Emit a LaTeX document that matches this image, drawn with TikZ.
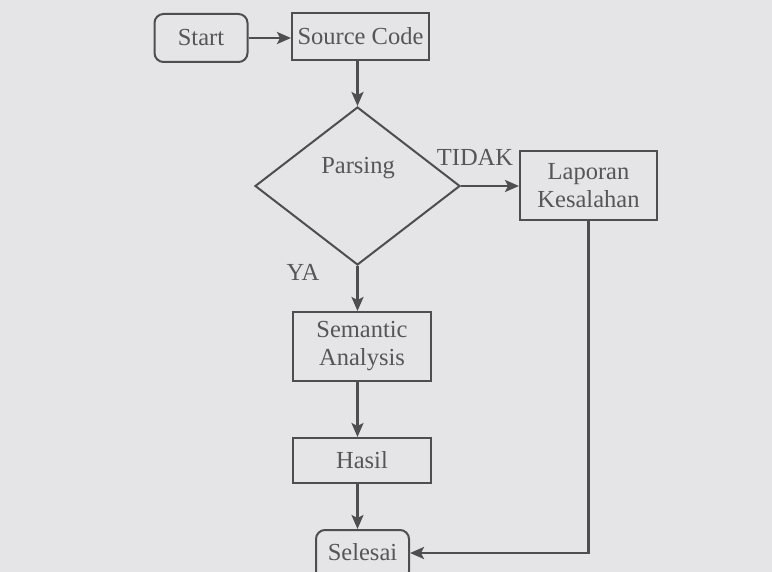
\documentclass[tikz,border=0pt]{standalone}
\usepackage{fontspec}
\setmainfont{Liberation Serif}
\usetikzlibrary{shapes.geometric,arrows.meta}
\definecolor{bgc}{RGB}{229,229,232}
\definecolor{linec}{RGB}{78,78,82}
\definecolor{txtc}{RGB}{85,85,90}
\tikzset{
  box/.style={draw=linec, line width=2pt, rectangle, inner sep=0pt, text=txtc, align=center,
    font=\fontsize{24.5}{28}\selectfont},
  term/.style={box, rounded corners=9pt},
  dec/.style={draw=linec, line width=2pt, diamond, inner sep=0pt, minimum width=205pt, minimum height=158pt},
  lbl/.style={text=txtc, inner sep=0pt, font=\fontsize{24.5}{28}\selectfont},
  arr/.style={draw=linec, line width=2.4pt, -{Stealth[length=14pt,width=12pt,inset=3pt]}},
  ln/.style={draw=linec, line width=2.4pt}
}
\begin{document}
\begin{tikzpicture}[x=1pt,y=-1pt]
\useasboundingbox (0,0) rectangle (772,572);
\fill[bgc] (0,0) rectangle (772,572);
\clip (0,0) rectangle (772,572);
\node[term, minimum width=93pt, minimum height=48pt] (start) at (201,38) {Start};
\node[box, minimum width=137pt, minimum height=47pt] (src) at (360.5,36.5) {Source Code};
\node[dec] (parse) at (357.5,186) {};
\node[lbl] (ptxt) at (358,168) {Parsing};
\node[box, minimum width=137pt, minimum height=69pt] (lap) at (588.5,185.5) {Laporan\\Kesalahan};
\node[box, minimum width=138pt, minimum height=69pt] (sem) at (362,346.5) {Semantic\\Analysis};
\node[box, minimum width=138pt, minimum height=45pt] (hasil) at (362,460.5) {Hasil};
\node[term, minimum width=93pt, minimum height=50pt, text depth=0pt] (sel) at (362.5,555) {\raisebox{7pt}{Selesai}};
\node[lbl] (tidak) at (475,157) {TIDAK};
\node[lbl] (ya) at (303,272) {YA};
\draw[arr] (start.east) -- (start.east -| src.west);
\draw[arr] (src.south -| parse.north) -- (parse.north);
\draw[arr] (parse.east) -- (parse.east -| lap.west);
\draw[arr] (parse.south) -- (parse.south |- sem.north);
\draw[arr] (sem.south -| parse.south) -- (parse.south |- hasil.north);
\draw[arr] (hasil.south -| parse.south) -- (parse.south |- sel.north);
\coordinate (turn) at (lap.south |- 0,553);
\draw[arr] (lap.south) -- (turn) -- (turn -| sel.east);
\end{tikzpicture}
\end{document}
